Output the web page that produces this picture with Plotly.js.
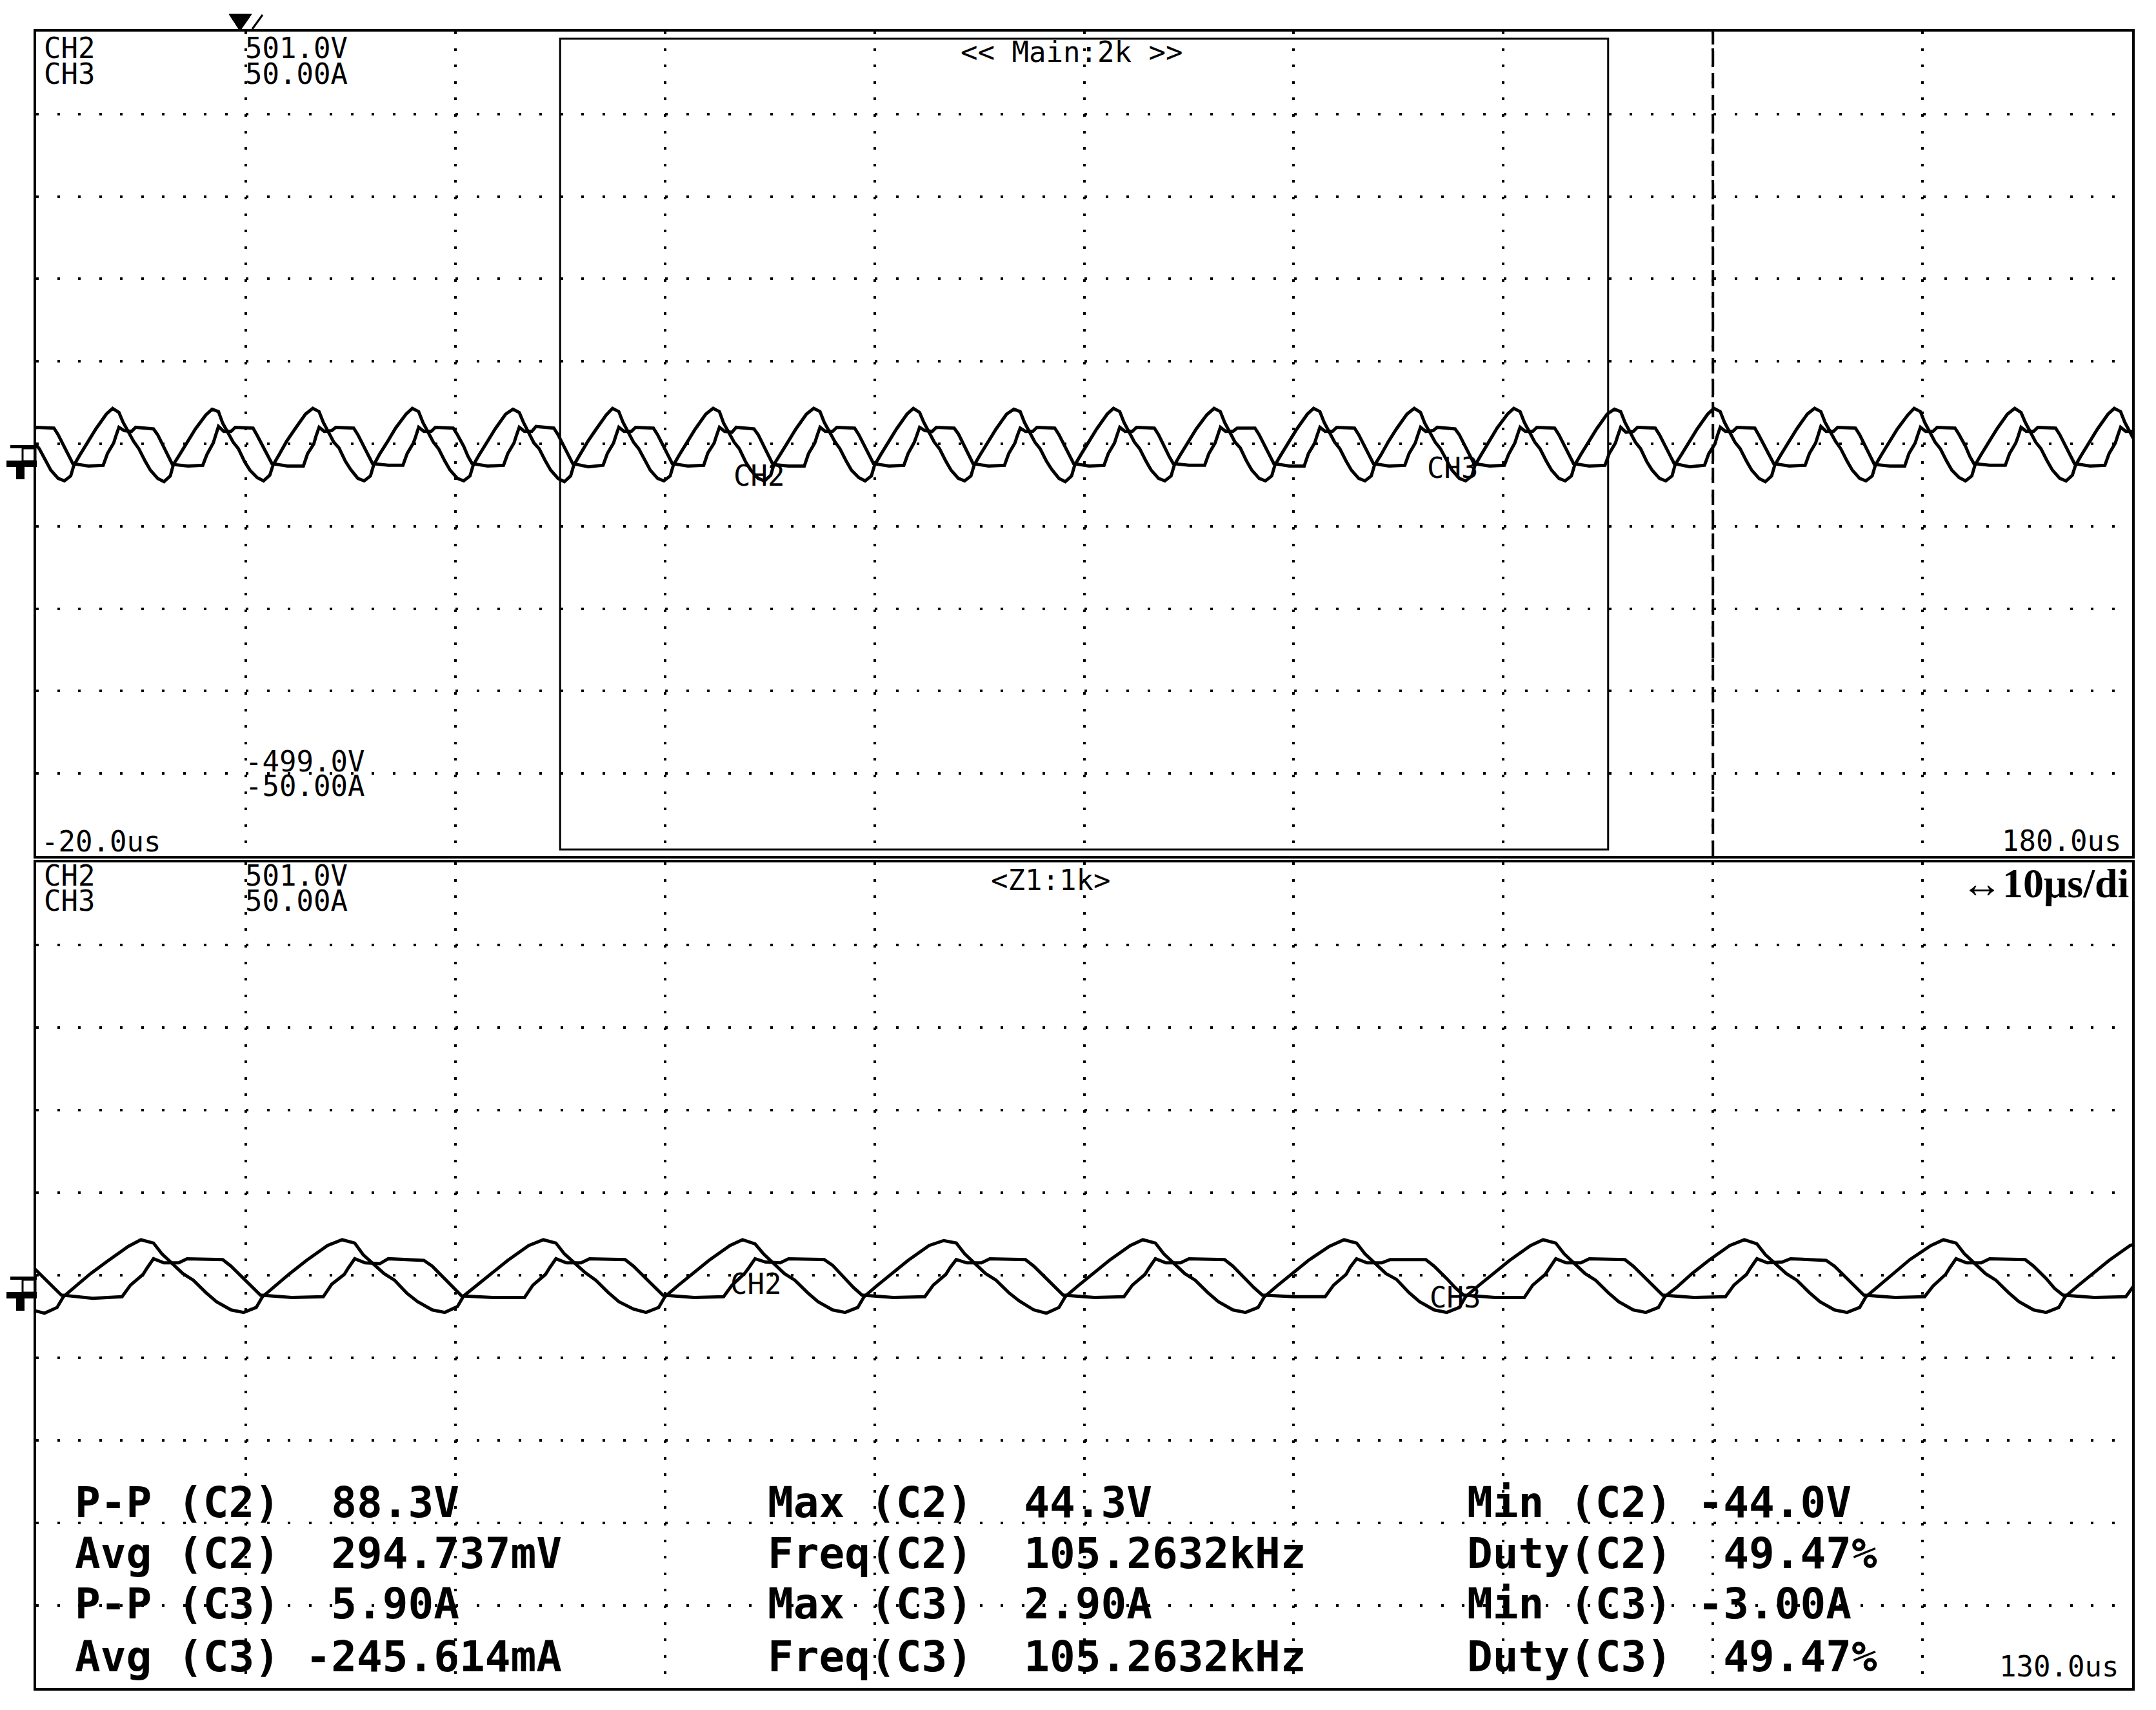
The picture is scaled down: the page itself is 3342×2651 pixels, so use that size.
<!DOCTYPE html>
<html>
<head>
<meta charset="utf-8">
<script src="https://cdn.plot.ly/plotly-3.0.1.min.js"></script>
<style>
  html, body { margin: 0; padding: 0; background: #fff; }
  #scope { width: 3342px; height: 2651px; }
</style>
</head>
<body>
<div id="scope"></div>
<script>
var ch2_time = [
  -22.2, -21.6, -21.2, -20.2, -19.7, -19.1, -18.6, -17.9, -17.3, -16.7, -16.4, -15.8, -15.1, -14.3, -13.3,
  -12.7, -12.1, -11.7, -10.7, -10.2, -9.6, -9.1, -8.4, -7.8, -7.2, -6.9, -6.3, -5.6, -4.8, -3.8,
  -3.2, -2.6, -2.2, -1.2, -0.7, -0.1, 0.4, 1.1, 1.7, 2.3, 2.6, 3.2, 3.9, 4.7, 5.7,
  6.4, 7.0, 7.4, 8.4, 8.9, 9.5, 10.0, 10.7, 11.3, 11.9, 12.2, 12.8, 13.5, 14.3, 15.3,
  15.9, 16.5, 16.9, 17.9, 18.4, 19.0, 19.5, 20.2, 20.8, 21.4, 21.7, 22.3, 23.0, 23.8, 24.8,
  25.5, 26.1, 26.5, 27.5, 28.0, 28.6, 29.1, 29.8, 30.4, 31.0, 31.3, 31.9, 32.6, 33.4, 34.4,
  35.0, 35.6, 36.0, 37.0, 37.5, 38.1, 38.6, 39.3, 39.9, 40.5, 40.8, 41.4, 42.1, 42.9, 43.9,
  44.6, 45.2, 45.6, 46.6, 47.1, 47.7, 48.2, 48.9, 49.5, 50.1, 50.4, 51.0, 51.7, 52.5, 53.5,
  54.2, 54.8, 55.2, 56.2, 56.7, 57.3, 57.8, 58.5, 59.1, 59.7, 60.0, 60.6, 61.3, 62.1, 63.1,
  63.7, 64.3, 64.7, 65.7, 66.2, 66.8, 67.3, 68.0, 68.6, 69.2, 69.5, 70.1, 70.8, 71.6, 72.6,
  73.3, 73.9, 74.3, 75.3, 75.8, 76.4, 76.9, 77.6, 78.2, 78.8, 79.1, 79.7, 80.4, 81.2, 82.2,
  82.8, 83.4, 83.8, 84.8, 85.3, 85.9, 86.4, 87.1, 87.7, 88.3, 88.6, 89.2, 89.9, 90.7, 91.7,
  92.4, 93.0, 93.4, 94.4, 94.9, 95.5, 96.0, 96.7, 97.3, 97.9, 98.2, 98.8, 99.5, 100.3, 101.3,
  101.9, 102.5, 102.9, 103.9, 104.4, 105.0, 105.5, 106.2, 106.8, 107.4, 107.7, 108.3, 109.0, 109.8, 110.8,
  111.5, 112.1, 112.5, 113.5, 114.0, 114.6, 115.1, 115.8, 116.4, 117.0, 117.3, 117.9, 118.6, 119.4, 120.4,
  121.0, 121.6, 122.0, 123.0, 123.5, 124.1, 124.6, 125.3, 125.9, 126.5, 126.8, 127.4, 128.1, 128.9, 129.9,
  130.6, 131.2, 131.6, 132.6, 133.1, 133.7, 134.2, 134.9, 135.5, 136.1, 136.4, 137.0, 137.7, 138.5, 139.5,
  140.1, 140.7, 141.1, 142.1, 142.6, 143.2, 143.7, 144.4, 145.0, 145.6, 145.9, 146.5, 147.2, 148.0, 149.0,
  149.7, 150.3, 150.7, 151.7, 152.2, 152.8, 153.3, 154.0, 154.6, 155.2, 155.5, 156.1, 156.8, 157.6, 158.6,
  159.2, 159.8, 160.2, 161.2, 161.7, 162.3, 162.8, 163.5, 164.1, 164.7, 165.0, 165.6, 166.3, 167.1, 168.1,
  168.8, 169.4, 169.8, 170.8, 171.3, 171.9, 172.4, 173.1, 173.7, 174.3, 174.6, 175.2, 175.9, 176.7, 177.7,
  178.3, 178.9, 179.3, 180.3, 180.8
];
var ch2_volts = [
  44, 40, 27, 3, -5, -20, -31, -41, -44, -38, -25, -12, 3, 19, 37,
  44, 39, 27, 4, -5, -20, -31, -41, -45, -38, -24, -12, 3, 19, 36,
  43, 40, 26, 3, -5, -21, -31, -40, -44, -37, -25, -12, 4, 19, 37,
  44, 40, 27, 3, -4, -20, -30, -41, -44, -38, -25, -11, 3, 20, 37,
  44, 40, 27, 3, -5, -20, -31, -41, -44, -38, -25, -12, 3, 19, 37,
  43, 39, 27, 2, -5, -20, -31, -41, -45, -38, -25, -12, 3, 18, 36,
  44, 40, 27, 3, -5, -20, -31, -41, -44, -38, -25, -12, 3, 19, 37,
  44, 40, 26, 3, -5, -21, -31, -41, -44, -37, -24, -12, 3, 19, 37,
  44, 40, 27, 4, -5, -20, -31, -40, -44, -38, -25, -12, 3, 19, 37,
  44, 39, 27, 3, -5, -20, -31, -41, -44, -38, -25, -12, 3, 19, 37,
  43, 40, 27, 3, -5, -20, -30, -41, -45, -38, -25, -12, 3, 19, 37,
  44, 40, 27, 3, -5, -20, -31, -41, -44, -38, -25, -12, 2, 19, 36,
  44, 40, 27, 3, -4, -20, -31, -41, -44, -38, -25, -12, 3, 19, 37,
  44, 40, 27, 3, -5, -20, -31, -41, -44, -38, -25, -13, 3, 19, 37,
  44, 39, 26, 3, -5, -20, -31, -41, -44, -38, -25, -12, 3, 20, 37,
  44, 40, 27, 3, -5, -20, -31, -41, -44, -38, -25, -12, 3, 19, 37,
  43, 40, 27, 3, -5, -21, -31, -41, -44, -38, -24, -12, 3, 19, 37,
  44, 40, 27, 3, -5, -20, -31, -41, -45, -38, -25, -12, 3, 19, 37,
  44, 40, 27, 4, -5, -20, -31, -41, -44, -38, -25, -12, 3, 19, 36,
  44, 40, 27, 3, -5, -20, -31, -40, -44, -38, -25, -12, 3, 19, 37,
  44, 39, 27, 3, -5, -20, -31, -41, -44, -37, -25, -12, 3, 19, 37,
  44, 40, 27, 3, -5
];

// CH3 (current) samples, same periods
var ch3_time = [
  -23.1, -22.7, -22.1, -21.9, -21.6, -21.1, -20.4, -20.0, -18.3, -17.9, -17.3, -16.9, -16.5, -15.0,
  -13.6, -13.2, -12.6, -12.4, -12.1, -11.6, -10.9, -10.5, -8.8, -8.4, -7.8, -7.4, -7.0, -5.5,
  -4.1, -3.7, -3.1, -2.9, -2.6, -2.1, -1.4, -1.0, 0.7, 1.1, 1.7, 2.1, 2.5, 4.0,
  5.5, 5.9, 6.5, 6.7, 7.0, 7.5, 8.2, 8.6, 10.3, 10.7, 11.3, 11.7, 12.1, 13.6,
  15.0, 15.4, 16.0, 16.2, 16.5, 17.0, 17.7, 18.1, 19.8, 20.2, 20.8, 21.2, 21.6, 23.1,
  24.6, 25.0, 25.6, 25.8, 26.1, 26.6, 27.3, 27.7, 29.4, 29.8, 30.4, 30.8, 31.2, 32.7,
  34.1, 34.5, 35.1, 35.3, 35.6, 36.1, 36.8, 37.2, 38.9, 39.3, 39.9, 40.3, 40.7, 42.2,
  43.7, 44.1, 44.7, 44.9, 45.2, 45.7, 46.4, 46.8, 48.5, 48.9, 49.5, 49.9, 50.3, 51.8,
  53.3, 53.7, 54.3, 54.5, 54.8, 55.3, 56.0, 56.4, 58.1, 58.5, 59.1, 59.5, 59.9, 61.4,
  62.8, 63.2, 63.8, 64.0, 64.3, 64.8, 65.5, 65.9, 67.6, 68.0, 68.6, 69.0, 69.4, 70.9,
  72.4, 72.8, 73.4, 73.6, 73.9, 74.4, 75.1, 75.5, 77.2, 77.6, 78.2, 78.6, 79.0, 80.5,
  81.9, 82.3, 82.9, 83.1, 83.4, 83.9, 84.6, 85.0, 86.7, 87.1, 87.7, 88.1, 88.5, 90.0,
  91.5, 91.9, 92.5, 92.7, 93.0, 93.5, 94.2, 94.6, 96.3, 96.7, 97.3, 97.7, 98.1, 99.6,
  101.0, 101.4, 102.0, 102.2, 102.5, 103.0, 103.7, 104.1, 105.8, 106.2, 106.8, 107.2, 107.6, 109.1,
  110.6, 111.0, 111.6, 111.8, 112.1, 112.6, 113.3, 113.7, 115.4, 115.8, 116.4, 116.8, 117.2, 118.7,
  120.1, 120.5, 121.1, 121.3, 121.6, 122.1, 122.8, 123.2, 124.9, 125.3, 125.9, 126.3, 126.7, 128.2,
  129.7, 130.1, 130.7, 130.9, 131.2, 131.7, 132.4, 132.8, 134.5, 134.9, 135.5, 135.9, 136.3, 137.8,
  139.2, 139.6, 140.2, 140.4, 140.7, 141.2, 141.9, 142.3, 144.0, 144.4, 145.0, 145.4, 145.8, 147.3,
  148.8, 149.2, 149.8, 150.0, 150.3, 150.8, 151.5, 151.9, 153.6, 154.0, 154.6, 155.0, 155.4, 156.9,
  158.3, 158.7, 159.3, 159.5, 159.8, 160.3, 161.0, 161.4, 163.1, 163.5, 164.1, 164.5, 164.9, 166.4,
  167.9, 168.3, 168.9, 169.1, 169.4, 169.9, 170.6, 171.0, 172.7, 173.1, 173.7, 174.1, 174.5, 176.0,
  177.4, 177.8, 178.4, 178.6, 178.9, 179.4, 180.1, 180.5
];
var ch3_amps = [
  -2.6, -1.2, 0.1, 0.9, 2.0, 1.5, 1.5, 2.0, 1.9, 1.1, -0.4, -1.5, -2.4, -2.7,
  -2.6, -1.2, 0.1, 0.9, 2.0, 1.6, 1.5, 2.0, 1.8, 1.1, -0.4, -1.5, -2.5, -2.7,
  -2.6, -1.3, 0.1, 0.9, 2.1, 1.5, 1.5, 2.0, 1.9, 1.0, -0.4, -1.5, -2.4, -2.7,
  -2.7, -1.2, 0.0, 0.9, 2.0, 1.5, 1.6, 2.0, 1.9, 1.1, -0.4, -1.6, -2.4, -2.6,
  -2.6, -1.2, 0.1, 0.8, 2.0, 1.5, 1.5, 2.0, 1.9, 1.1, -0.3, -1.5, -2.4, -2.7,
  -2.6, -1.2, 0.1, 0.9, 2.0, 1.5, 1.5, 2.1, 1.9, 1.1, -0.4, -1.5, -2.4, -2.8,
  -2.6, -1.2, 0.1, 0.9, 2.0, 1.5, 1.5, 2.0, 1.9, 1.1, -0.4, -1.5, -2.4, -2.7,
  -2.6, -1.1, 0.1, 0.9, 2.0, 1.5, 1.4, 2.0, 1.8, 1.1, -0.4, -1.5, -2.5, -2.7,
  -2.7, -1.2, 0.1, 0.9, 2.0, 1.5, 1.5, 2.0, 1.9, 1.1, -0.4, -1.5, -2.4, -2.7,
  -2.6, -1.2, 0.2, 0.9, 2.0, 1.6, 1.5, 2.0, 1.9, 1.2, -0.4, -1.5, -2.4, -2.7,
  -2.6, -1.2, 0.1, 0.9, 1.9, 1.5, 1.5, 2.0, 1.9, 1.1, -0.4, -1.4, -2.4, -2.7,
  -2.6, -1.2, 0.1, 0.9, 2.0, 1.5, 1.5, 2.0, 1.9, 1.1, -0.5, -1.5, -2.4, -2.6,
  -2.6, -1.2, 0.1, 1.0, 2.0, 1.5, 1.5, 1.9, 1.9, 1.1, -0.4, -1.5, -2.4, -2.7,
  -2.7, -1.2, 0.1, 0.9, 2.0, 1.5, 1.5, 2.0, 1.9, 1.1, -0.4, -1.5, -2.4, -2.7,
  -2.6, -1.2, 0.1, 0.9, 2.0, 1.5, 1.6, 2.0, 1.8, 1.1, -0.4, -1.5, -2.4, -2.7,
  -2.6, -1.3, 0.1, 0.9, 2.0, 1.5, 1.5, 2.0, 1.9, 1.1, -0.4, -1.6, -2.4, -2.7,
  -2.6, -1.2, 0.1, 0.9, 2.0, 1.4, 1.5, 2.0, 1.9, 1.1, -0.4, -1.5, -2.4, -2.8,
  -2.6, -1.2, 0.0, 0.9, 2.0, 1.5, 1.5, 2.0, 1.9, 1.0, -0.4, -1.5, -2.4, -2.7,
  -2.6, -1.2, 0.1, 0.9, 2.1, 1.5, 1.5, 2.0, 1.9, 1.1, -0.4, -1.5, -2.5, -2.7,
  -2.7, -1.2, 0.1, 0.9, 2.0, 1.5, 1.5, 2.0, 1.9, 1.1, -0.3, -1.5, -2.4, -2.6,
  -2.6, -1.2, 0.1, 0.8, 2.0, 1.5, 1.5, 2.0, 1.9, 1.1, -0.4, -1.5, -2.4, -2.7,
  -2.6, -1.2, 0.1, 0.9, 2.0, 1.5, 1.5, 2.0
];

// scope settings
var main_range = [-20, 180];   // 20 us/div
var zoom_range = [30, 130];    // 10 us/div, Z1:1k
var volt_range = [-499, 501];  // CH2
var amp_range = [-50, 50];     // CH3
var cursor_time = 140;

// readout table
var meas_col1 = ['P-P (C2)  88.3V', 'Avg (C2)  294.737mV', 'P-P (C3)  5.90A', 'Avg (C3) -245.614mA'];
var meas_col2 = ['Max (C2)  44.3V', 'Freq(C2)  105.2632kHz', 'Max (C3)  2.90A', 'Freq(C3)  105.2632kHz'];
var meas_col3 = ['Min (C2) -44.0V', 'Duty(C2)  49.47%', 'Min (C3) -3.00A', 'Duty(C3)  49.47%'];

// page geometry in px
var W = 3342, H = 2651;
var ML = 56, MR = 37, MT = 49, MB = 34;
var PW = W - ML - MR, PH = H - MT - MB;
function px(x) { return (x - ML) / PW; }
function py(y) { return (H - MB - y) / PH; }
function keep(s) { return s.replace(/ /g, '\u00a0'); }

var thin = { family: 'DejaVu Sans Mono', size: 44, color: '#000' };
var bold = { family: 'DejaVu Sans Mono', size: 66, color: '#000', weight: 'bold' };

var ink = { color: '#000', width: 5 };
var traces = [
  { x: ch2_time, y: ch2_volts, xaxis: 'x', yaxis: 'y', mode: 'lines', line: ink, hoverinfo: 'skip' },
  { x: ch3_time, y: ch3_amps, xaxis: 'x', yaxis: 'y3', mode: 'lines', line: ink, hoverinfo: 'skip' },
  { x: ch2_time, y: ch2_volts, xaxis: 'x2', yaxis: 'y2', mode: 'lines', line: ink, hoverinfo: 'skip' },
  { x: ch3_time, y: ch3_amps, xaxis: 'x2', yaxis: 'y4', mode: 'lines', line: ink, hoverinfo: 'skip' }
];

var topDomain = [py(1327), 1];
var botDomain = [0, py(1337)];

function timeAxis(range, step, anchor) {
  return {
    range: range, anchor: anchor, domain: [0, 1],
    tickmode: 'linear', tick0: range[0], dtick: step,
    showticklabels: false, ticks: '', zeroline: false,
    showgrid: true, gridcolor: '#000', gridwidth: 4, griddash: '4px,21.6px',
    showline: true, linecolor: '#000', linewidth: 4, mirror: true
  };
}
function voltAxis(domain, anchor) {
  return {
    range: volt_range, domain: domain, anchor: anchor,
    tickmode: 'linear', tick0: volt_range[0], dtick: 100,
    showticklabels: false, ticks: '', zeroline: false,
    showgrid: true, gridcolor: '#000', gridwidth: 4, griddash: '4px,28.5px',
    showline: true, linecolor: '#000', linewidth: 4, mirror: true
  };
}

function label(text, x, y, font, xanchor) {
  return {
    text: keep(text), xref: 'paper', yref: 'paper', x: px(x), y: py(y),
    xanchor: xanchor || 'left', yanchor: 'middle', showarrow: false, font: font
  };
}

var annotations = [
  label('CH2', 66, 75, thin), label('CH3', 66, 115, thin),
  label('501.0V', 378, 75, thin), label('50.00A', 378, 115, thin),
  label('-499.0V', 378, 1180, thin), label('-50.00A', 378, 1218, thin),
  label('-20.0us', 62, 1304, thin),
  label('180.0us', 3290, 1303, thin, 'right'),
  label('<< Main:2k >>', 1661, 80, thin, 'center'),
  label('CH2', 66, 1357, thin), label('CH3', 66, 1396, thin),
  label('501.0V', 378, 1357, thin), label('50.00A', 378, 1396, thin),
  label('<Z1:1k>', 1628, 1364, thin, 'center'),
  label('\u219410\u03bcs/di', 3302, 1370, { family: 'Liberation Serif', size: 64, color: '#000', weight: 'bold' }, 'right'),
  label('130.0us', 3286, 2583, thin, 'right'),
  label('CH2', 1135, 737, thin), label('CH3', 2210, 726, thin),
  label('CH2', 1130, 1990, thin), label('CH3', 2214, 2012, thin)
];
var rowsY = [2329, 2408, 2486, 2568];
[[meas_col1, 114], [meas_col2, 1188], [meas_col3, 2272]].forEach(function (col) {
  col[0].forEach(function (txt, i) { annotations.push(label(txt, col[1], rowsY[i], bold)); });
});

function rectPx(x0, y0, x1, y1, filled) {
  return {
    type: 'rect', xref: 'paper', yref: 'paper', layer: 'above',
    x0: px(x0), x1: px(x1), y0: py(y1), y1: py(y0),
    line: { color: '#000', width: filled ? 0 : 3 },
    fillcolor: filled ? '#000' : 'rgba(0,0,0,0)'
  };
}
function groundMark(cy) {
  return [
    rectPx(16, cy + 2, 57, cy + 7, true),
    rectPx(35, cy + 7, 55, cy + 27, false),
    rectPx(10, cy + 26, 57, cy + 36, true),
    rectPx(25, cy + 36, 38, cy + 55, true)
  ];
}

var shapes = [
  // zoom window
  { type: 'rect', xref: 'x', yref: 'paper', layer: 'above',
    x0: zoom_range[0], x1: zoom_range[1], y0: py(1317), y1: py(60),
    line: { color: '#000', width: 3 } },
  // cursor
  { type: 'line', xref: 'x', yref: 'paper', layer: 'above',
    x0: cursor_time, x1: cursor_time, y0: py(1327), y1: py(50),
    line: { color: '#000', width: 4, dash: '24px,10px' } },
  // trigger position
  { type: 'path', xref: 'paper', yref: 'paper', layer: 'above',
    path: 'M' + px(355) + ',' + py(22) + ' L' + px(390) + ',' + py(22) + ' L' + px(372) + ',' + py(48) + ' Z',
    fillcolor: '#000', line: { color: '#000', width: 1 } },
  { type: 'line', xref: 'paper', yref: 'paper', layer: 'above',
    x0: px(391), y0: py(45), x1: px(407), y1: py(23), line: { color: '#000', width: 3 } }
].concat(groundMark(688), groundMark(1977));

var layout = {
  width: W, height: H,
  margin: { l: ML, r: MR, t: MT, b: MB, pad: 0 },
  paper_bgcolor: '#fff', plot_bgcolor: '#fff',
  showlegend: false,
  xaxis: timeAxis(main_range, 20, 'y'),
  yaxis: voltAxis(topDomain, 'x'),
  yaxis3: { range: amp_range, overlaying: 'y', anchor: 'x', visible: false },
  xaxis2: timeAxis(zoom_range, 10, 'y2'),
  yaxis2: voltAxis(botDomain, 'x2'),
  yaxis4: { range: amp_range, overlaying: 'y2', anchor: 'x2', visible: false },
  annotations: annotations,
  shapes: shapes
};

Plotly.newPlot('scope', traces, layout, { staticPlot: true });
</script>
</body>
</html>
